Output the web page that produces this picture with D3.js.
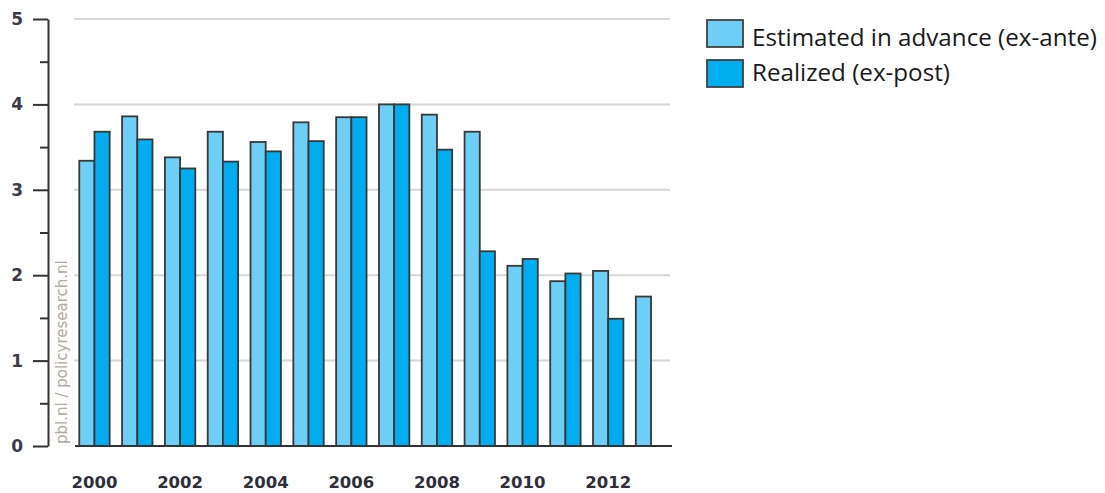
<!DOCTYPE html>
<html>
<head>
<meta charset="utf-8">
<script src="https://cdn.jsdelivr.net/npm/d3@7"></script>
<style>
  html, body { margin: 0; padding: 0; background: #ffffff; }
  svg { display: block; }
</style>
</head>
<body>
<svg id="chart" width="1105" height="493"></svg>
<script>
// ---- data ----
const years = [2000, 2001, 2002, 2003, 2004, 2005, 2006, 2007, 2008, 2009, 2010, 2011, 2012, 2013];
const exAnte = [3.34, 3.86, 3.38, 3.68, 3.56, 3.79, 3.85, 4.0, 3.88, 3.68, 2.11, 1.93, 2.05, 1.75];
const exPost = [3.68, 3.59, 3.25, 3.33, 3.45, 3.57, 3.85, 4.0, 3.47, 2.28, 2.19, 2.02, 1.49, null];
const seriesNames = ["Estimated in advance (ex-ante)", "Realized (ex-post)"];
const seriesColors = ["#6dcff6", "#00aeef"];
const yTicks = [0, 1, 2, 3, 4, 5];
const yMinorTicks = [0.5, 1.5, 2.5, 3.5, 4.5];
const xLabelYears = [2000, 2002, 2004, 2006, 2008, 2010, 2012];
const watermark = "pbl.nl / policyresearch.nl";

// ---- layout ----
const svg = d3.select("#chart");
const y = d3.scaleLinear().domain([0, 5]).range([446, 19]);
const x = d3.scaleBand().domain(years).range([72, 673.5]).paddingInner(0.29).paddingOuter(0.17);
const xSub = d3.scaleBand().domain([0, 1]).range([0, x.bandwidth()]);

// gridlines
svg.append("g").selectAll("line").data(yTicks.filter(d => d > 0)).join("line")
  .attr("x1", 74).attr("x2", 670)
  .attr("y1", d => y(d)).attr("y2", d => y(d))
  .attr("stroke", "#d6d6d6").attr("stroke-width", 2);

// bars
const rows = [];
years.forEach((yr, i) => {
  [exAnte[i], exPost[i]].forEach((v, s) => {
    if (v != null) rows.push({ yr, s, v });
  });
});
svg.append("g").selectAll("rect").data(rows).join("rect")
  .attr("x", d => x(d.yr) + xSub(d.s))
  .attr("y", d => y(d.v))
  .attr("width", xSub.bandwidth())
  .attr("height", d => y(0) - y(d.v))
  .attr("fill", d => seriesColors[d.s])
  .attr("stroke", "#383838").attr("stroke-width", 1.8);

// baseline
svg.append("line")
  .attr("x1", 75).attr("x2", 672)
  .attr("y1", y(0)).attr("y2", y(0))
  .attr("stroke", "#333").attr("stroke-width", 2);

// y axis
const yAxis = svg.append("g").attr("transform", "translate(48,0)")
  .call(d3.axisLeft(y).tickValues(yTicks).tickSize(15).tickSizeOuter(0).tickPadding(10).tickFormat(d3.format("d")));
yAxis.select(".domain").attr("stroke", "#333").attr("stroke-width", 2);
yAxis.selectAll(".tick line").attr("stroke", "#333").attr("stroke-width", 2);
yAxis.selectAll("text")
  .attr("font-family", "DejaVu Sans").attr("font-weight", "bold").attr("font-size", 17)
  .attr("fill", "#3b3b4c");
const yMinor = svg.append("g").attr("transform", "translate(48,0)")
  .call(d3.axisLeft(y).tickValues(yMinorTicks).tickSize(8).tickSizeOuter(0).tickFormat(""));
yMinor.select(".domain").remove();
yMinor.selectAll(".tick line").attr("stroke", "#333").attr("stroke-width", 2);

// x labels
const xAxis = svg.append("g").attr("transform", `translate(0,${y(0)})`)
  .call(d3.axisBottom(x).tickValues(xLabelYears).tickSize(0).tickPadding(30).tickFormat(d3.format("d")));
xAxis.select(".domain").remove();
xAxis.selectAll("text")
  .attr("font-family", "DejaVu Sans").attr("font-weight", "bold").attr("font-size", 16.5)
  .attr("fill", "#2f2f3a");

// watermark
svg.append("text")
  .attr("transform", "translate(67,444) rotate(-90)")
  .attr("font-family", "DejaVu Sans").attr("font-size", 15)
  .attr("fill", "#b3ab9c")
  .text(watermark);

// legend
const legend = svg.append("g");
const legendRows = [{ boxY: 20, base: 45.7 }, { boxY: 60, base: 80.7 }];
seriesNames.forEach((name, i) => {
  legend.append("rect")
    .attr("x", 707).attr("y", legendRows[i].boxY)
    .attr("width", 36).attr("height", 27)
    .attr("fill", seriesColors[i]).attr("stroke", "#404040").attr("stroke-width", 1.8);
  legend.append("text")
    .attr("class", "legtext")
    .attr("x", 752).attr("y", legendRows[i].base)
    .attr("font-family", "Open Sans").attr("font-size", 20)
    .attr("fill", "#1a1a1a")
    .text(name);
});
// fit legend font size to the reference width
const first = legend.select(".legtext").node();
const w = first.getComputedTextLength();
if (w > 0) {
  const fs = 20 * 345 / w;
  legend.selectAll(".legtext").attr("font-size", fs);
}
</script>
</body>
</html>
